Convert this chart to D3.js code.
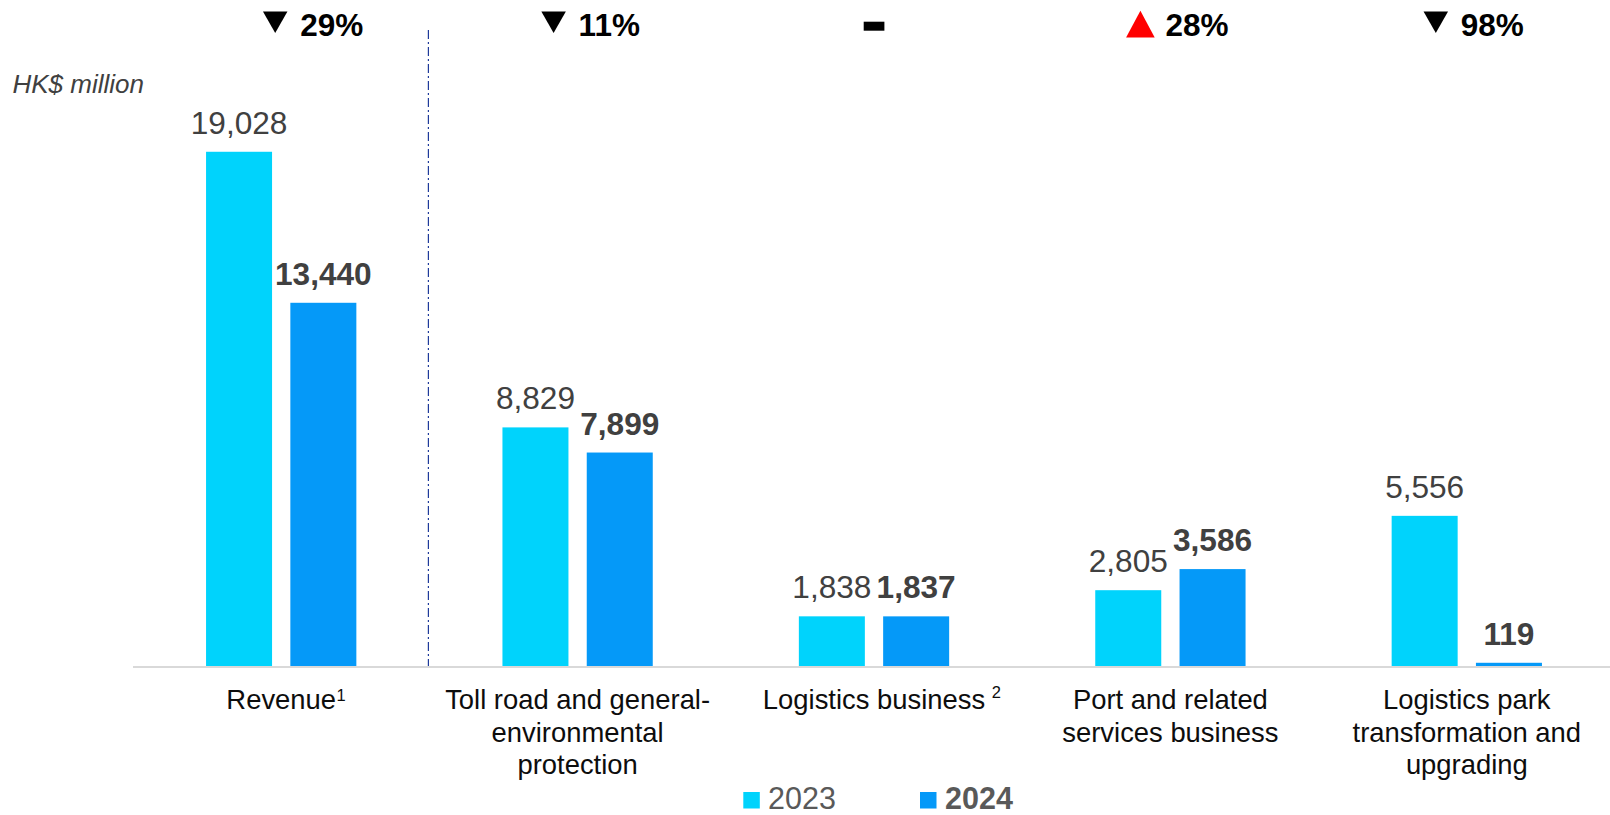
<!DOCTYPE html>
<html>
<head>
<meta charset="utf-8">
<script src="https://cdn.jsdelivr.net/npm/d3@7/dist/d3.min.js"></script>
<style>
  html, body { margin: 0; padding: 0; background: #ffffff; }
  svg { display: block; }
  text { font-family: "Liberation Sans", Arial, sans-serif; }
</style>
</head>
<body>
<svg id="chart" width="1610" height="815"></svg>
<script>
// Segment revenue, HK$ million
const categories = ["Revenue", "Toll road", "Logistics", "Port", "Logistics park"];
const categoryLines = [
  ["Revenue"],
  ["Toll road and general-", "environmental", "protection"],
  ["Logistics business"],
  ["Port and related", "services business"],
  ["Logistics park", "transformation and", "upgrading"]
];
const footnotes = ["1", "", "2", "", ""];
const years = ["2023", "2024"];
const values2023 = [19028, 8829, 1838, 2805, 5556];
const values2024 = [13440, 7899, 1837, 3586, 119];
const unitLabel = "HK$ million";

// layout / style
const W = 1610, H = 815;
const baseY = 666;
const colors = { "2023": "#00D3FC", "2024": "#0599F8" };
const labelColor = "#404040";
const changeNudge = [23, 5, 0, -1, -2];

const svg = d3.select("#chart");

const x = d3.scaleBand().domain(categories).range([133, 1615]).paddingInner(0).paddingOuter(0);
const xs = d3.scaleBand().domain(years).range([-75.15, 75.15]).paddingInner(0.217).paddingOuter(0);
const y = d3.scaleLinear().domain([0, 20000]).range([baseY, 125.5]);

const rows = categories.map((c, i) => ({
  cat: c, i,
  vals: [{ year: "2023", v: values2023[i] }, { year: "2024", v: values2024[i] }]
}));
const fmt = d3.format(",");

// divider between total and segments
const divX = x(categories[1]) - 1;
svg.append("line")
  .attr("x1", divX).attr("x2", divX)
  .attr("y1", 30).attr("y2", baseY)
  .attr("stroke", "#1F3A9A").attr("stroke-width", 1.2)
  .attr("stroke-dasharray", "9,3,2,3");

// bars
const groups = svg.selectAll("g.cat").data(rows).join("g")
  .attr("class", "cat")
  .attr("transform", d => `translate(${x(d.cat) + x.bandwidth() / 2},0)`);

groups.selectAll("rect").data(d => d.vals).join("rect")
  .attr("x", d => xs(d.year))
  .attr("width", xs.bandwidth())
  .attr("y", d => y(d.v))
  .attr("height", d => baseY - y(d.v))
  .attr("fill", d => colors[d.year]);

groups.selectAll("text.val").data(d => d.vals).join("text")
  .attr("class", "val")
  .attr("x", d => xs(d.year) + xs.bandwidth() / 2)
  .attr("y", d => y(d.v) - 18)
  .attr("text-anchor", "middle")
  .attr("font-size", 31.6)
  .attr("font-weight", d => d.year === "2024" ? "bold" : "normal")
  .attr("fill", labelColor)
  .text(d => fmt(d.v));

// baseline
svg.append("line")
  .attr("x1", 133).attr("x2", W)
  .attr("y1", baseY + 1).attr("y2", baseY + 1)
  .attr("stroke", "#D9D9D9").attr("stroke-width", 2);

// category labels
groups.each(function (d) {
  const g = d3.select(this);
  const lines = categoryLines[d.i];
  const t = g.append("text")
    .attr("text-anchor", "middle")
    .attr("font-size", 27.4)
    .attr("fill", "#0D0D0D");
  lines.forEach((ln, k) => {
    t.append("tspan").attr("x", 0).attr("y", 709 + k * 32.7).text(ln);
  });
  const note = footnotes[d.i];
  if (note) {
    const w = t.select("tspan").node().getComputedTextLength();
    const gap = d.i === 0 ? 0.5 : 6.5;
    g.append("text")
      .attr("x", w / 2 + gap)
      .attr("y", d.i === 0 ? 701 : 697.5)
      .attr("font-size", 16.5)
      .attr("fill", "#0D0D0D")
      .text(note);
  }
});

// year-on-year change markers
groups.each(function (d) {
  const g = d3.select(this);
  const a = values2023[d.i], b = values2024[d.i];
  const pct = Math.round((b - a) / a * 100);
  const n = changeNudge[d.i];
  if (pct === 0) {
    g.append("rect")
      .attr("x", -10.3).attr("y", 21.7)
      .attr("width", 20.7).attr("height", 9)
      .attr("fill", "#000");
    return;
  }
  const cx = -29 + n;
  if (pct < 0) {
    g.append("path")
      .attr("d", `M${cx - 12.25},11.5 L${cx + 12.25},11.5 L${cx},33 Z`)
      .attr("fill", "#000");
  } else {
    g.append("path")
      .attr("d", `M${cx - 14.3},37.5 L${cx + 14.3},37.5 L${cx},10.7 Z`)
      .attr("fill", "#FF0000");
  }
  g.append("text")
    .attr("x", -4 + n)
    .attr("y", 35.5)
    .attr("font-size", 31.5)
    .attr("font-weight", "bold")
    .attr("fill", "#000")
    .text(Math.abs(pct) + "%");
});

// unit label
svg.append("text")
  .attr("x", 12.5).attr("y", 93)
  .attr("font-size", 26)
  .attr("font-style", "italic")
  .attr("fill", labelColor)
  .text(unitLabel);

// legend
const legendX = [743.3, 920];
const legend = svg.selectAll("g.legend").data(years).join("g")
  .attr("class", "legend")
  .attr("transform", (d, i) => `translate(${legendX[i]},0)`);
legend.append("rect")
  .attr("x", 0).attr("y", 792)
  .attr("width", 16.5).attr("height", 16.5)
  .attr("fill", d => colors[d]);
legend.append("text")
  .attr("x", (d, i) => i === 0 ? 24.7 : 25)
  .attr("y", 809.3)
  .attr("font-size", 30.5)
  .attr("font-weight", (d, i) => i === 1 ? "bold" : "normal")
  .attr("fill", "#595959")
  .text(d => d);
</script>
</body>
</html>
